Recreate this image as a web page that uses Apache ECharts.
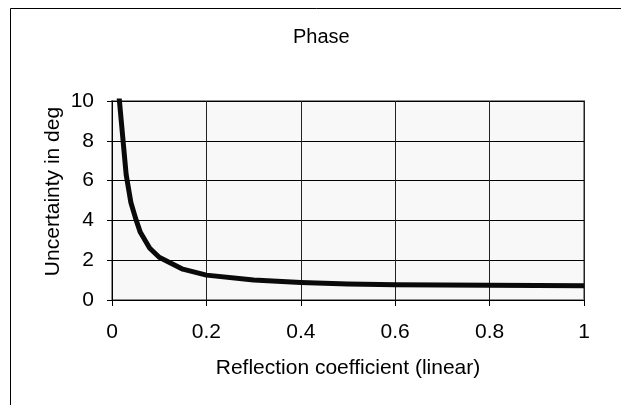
<!DOCTYPE html>
<html>
<head>
<meta charset="utf-8">
<script src="https://cdn.jsdelivr.net/npm/echarts@6/dist/echarts.min.js"></script>
<style>
  html, body { margin: 0; padding: 0; background: #fff; }
  #main { width: 621px; height: 405px; }
</style>
</head>
<body>
<div id="main"></div>
<script>
// reflection coefficient (linear) and phase uncertainty in deg
var reflection = [0.015, 0.02, 0.03, 0.04, 0.05, 0.06, 0.08, 0.1, 0.15, 0.2, 0.3, 0.4, 0.5, 0.6, 0.7, 0.8, 0.9, 1.0];
var uncertainty = [10.2, 8.9, 6.3, 4.9, 4.1, 3.4, 2.6, 2.15, 1.55, 1.25, 1.0, 0.88, 0.81, 0.77, 0.75, 0.74, 0.73, 0.72];

var font = "'Liberation Sans', Arial, sans-serif";

var chartDom = document.getElementById('main');
var myChart = echarts.init(chartDom);

var points = reflection.map(function (x, i) { return [x, uncertainty[i]]; });

var option = {
    animation: false,
    backgroundColor: '#fff',
    textStyle: { fontFamily: font, color: '#000' },
    title: {
        text: 'Phase',
        left: 288,
        top: 22,
        textStyle: { fontFamily: font, fontSize: 20, fontWeight: 'normal', color: '#000' }
    },
    graphic: [{
        type: 'rect',
        shape: { x: 10.5, y: 8.5, width: 700, height: 500 },
        style: { fill: 'none', stroke: '#000', lineWidth: 1 },
        silent: true
    }],
    grid: {
        left: 112,
        right: 37,
        top: 101,
        bottom: 105,
        show: true,
        backgroundColor: '#f8f8f8',
        borderColor: '#8c8c8c',
        borderWidth: 2
    },
    xAxis: {
        type: 'value',
        min: 0,
        max: 1,
        interval: 0.2,
        name: 'Reflection coefficient (linear)',
        nameLocation: 'middle',
        nameGap: 58,
        nameMoveOverlap: false,
        nameTextStyle: { fontFamily: font, fontSize: 21, color: '#000' },
        axisLine: { lineStyle: { color: '#000', width: 1 } },
        axisTick: { show: true, length: 6, lineStyle: { color: '#000' } },
        axisLabel: { fontFamily: font, fontSize: 21, color: '#000', margin: 22 },
        splitLine: { show: true, lineStyle: { color: '#222', width: 1 } }
    },
    yAxis: {
        type: 'value',
        min: 0,
        max: 10,
        interval: 2,
        name: 'Uncertainty in deg',
        nameLocation: 'middle',
        nameGap: 48,
        nameMoveOverlap: false,
        nameTextStyle: { fontFamily: font, fontSize: 21, color: '#000', padding: [0, 0, 0, 18] },
        axisLine: { show: true, lineStyle: { color: '#000', width: 1 } },
        axisTick: { show: true, length: 5, lineStyle: { color: '#000' } },
        axisLabel: { fontFamily: font, fontSize: 21, color: '#000', margin: 18 },
        splitLine: { show: true, lineStyle: { color: '#000', width: 1 } }
    },
    series: [{
        type: 'line',
        data: points,
        showSymbol: false,
        clip: true,
        lineStyle: { color: '#0a0a0a', width: 5, join: 'round' }
    }]
};
myChart.setOption(option);
</script>
</body>
</html>
